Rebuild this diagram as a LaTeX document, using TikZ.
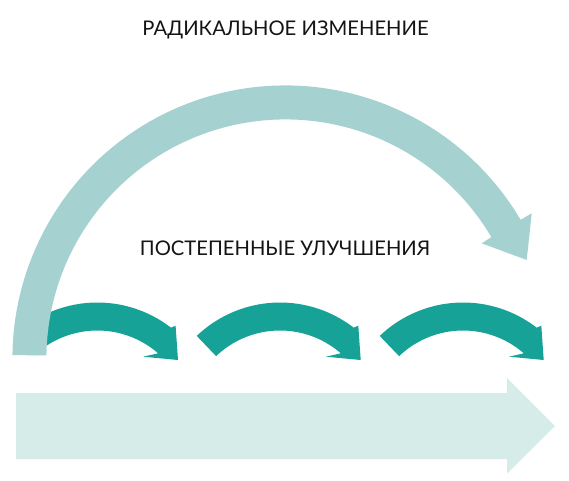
\documentclass[tikz,border=0pt]{standalone}
\usepackage{fontspec}
\newfontfamily\lblfont{Lato}
\definecolor{bigarc}{RGB}{166,209,209}
\definecolor{tealarr}{RGB}{23,162,152}
\definecolor{basearr}{RGB}{213,236,232}
\definecolor{ink}{RGB}{20,20,20}
\begin{document}
\begin{tikzpicture}[x=1pt,y=-1pt,
  lbl/.style={font=\lblfont\fontsize{20.2}{22}\selectfont, text=ink, inner sep=0pt, anchor=base}]
\useasboundingbox (0,0) rectangle (569,480);
\fill[white] (0,0) rectangle (569,480);
% long base arrow
\fill[basearr] (16,393) -- (507,393) -- (507,378) -- (555,426) -- (507,473.5) -- (507,459) -- (16,459) -- cycle;
% small incremental arrows (centre cx, 423), outer 120.5, inner 92.5
\foreach \cx/\st in {97.3/128, 280/133.7, 463/133.7} {
  \fill[tealarr]
    plot[domain=\st:52.3, samples=40] ({\cx+120.5*cos(\x)},{423-120.5*sin(\x)})
    -- (\cx+78.3,423-97.3) -- (\cx+80.7,423-63) -- (\cx+46,423-66.3)
    -- plot[domain=48.9:\st, samples=40] ({\cx+92.5*cos(\x)},{423-92.5*sin(\x)})
    -- cycle;
}
% big radical arc
\fill[bigarc]
  plot[domain=179.3:30.5, samples=120] ({285.4+273*cos(\x)},{358.4-273*sin(\x)})
  -- (531.7,213.3) -- (526.7,260) -- (481.7,243.3)
  -- plot[domain=30.5:179.3, samples=120] ({285.4+239*cos(\x)},{358.4-239*sin(\x)})
  -- cycle;
% labels
\node[lbl] (radical) at (285.5,35) {РАДИКАЛЬНОЕ ИЗМЕНЕНИЕ};
\node[lbl] (gradual) at (285,255) {ПОСТЕПЕННЫЕ УЛУЧШЕНИЯ};
\end{tikzpicture}
\end{document}
